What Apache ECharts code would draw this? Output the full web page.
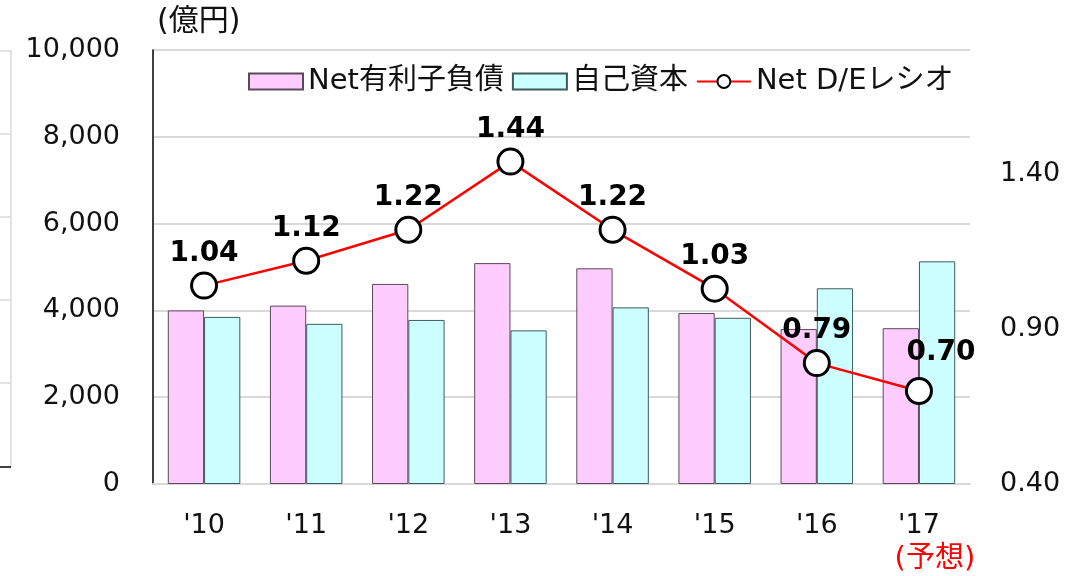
<!DOCTYPE html>
<html>
<head>
<meta charset="utf-8">
<script src="https://cdn.jsdelivr.net/npm/echarts@6/dist/echarts.min.js"></script>
<style>
  html, body { margin: 0; padding: 0; background: #fff; }
  #chart { width: 1086px; height: 576px; }
</style>
</head>
<body>
<div id="chart"></div>
<script>
// 年度
const categories = ["'10", "'11", "'12", "'13", "'14", "'15", "'16", "'17"];
// Net有利子負債 (億円)
const netDebt = [4000, 4110, 4610, 5090, 4970, 3940, 3570, 3590];
// 自己資本 (億円)
const equity = [3850, 3690, 3780, 3540, 4070, 3830, 4510, 5130];
// Net D/Eレシオ
const deRatio = [1.04, 1.12, 1.22, 1.44, 1.22, 1.03, 0.79, 0.70];
// 予想の年度
const forecastIndex = 7;
const forecastNote = '(予想)';
const unitLabel = '(億円)';

const baseFont = '"DejaVu Sans", "Noto Sans CJK JP", sans-serif';

const chart = echarts.init(document.getElementById('chart'));

const option = {
    animation: false,
    textStyle: { fontFamily: baseFont },
    title: {
        text: unitLabel,
        left: 152,
        top: 2,
        textStyle: { fontSize: 30, fontWeight: 'normal', color: '#111', fontFamily: baseFont }
    },
    legend: {
        left: 243,
        top: 62,
        itemWidth: 54,
        itemHeight: 16,
        itemGap: 8,
        textStyle: { fontSize: 29, color: '#111', fontFamily: baseFont },
        data: [
            { name: 'Net有利子負債', icon: 'rect' },
            { name: '自己資本', icon: 'rect' },
            { name: 'Net D/Eレシオ' }
        ]
    },
    grid: { left: 153, right: 116, top: 50, bottom: 90, containLabel: false },
    xAxis: {
        type: 'category',
        data: categories,
        axisLine: { lineStyle: { color: '#d9d9d9', width: 2 } },
        axisTick: { show: false },
        axisLabel: {
            interval: 0,
            fontSize: 27,
            color: '#111',
            margin: 26,
            lineHeight: 32,
            formatter: (v, i) => i === forecastIndex ? v + '\n{r|' + forecastNote + '}' : v,
            rich: { r: { color: '#ff0000', fontSize: 29, lineHeight: 34, fontFamily: baseFont, padding: [0, 0, 0, 32] } }
        }
    },
    yAxis: [
        {
            type: 'value',
            min: 0,
            max: 10000,
            interval: 2000,
            axisLine: { show: true, lineStyle: { color: '#000', width: 1.5 } },
            axisTick: { show: false },
            axisLabel: {
                fontSize: 27,
                color: '#111',
                margin: 33,
                formatter: v => v.toLocaleString('en-US')
            },
            splitLine: { lineStyle: { color: '#d9d9d9', width: 2 } }
        },
        {
            type: 'value',
            min: 0.4,
            max: 1.8,
            interval: 0.5,
            axisLine: { show: false },
            axisTick: { show: false },
            splitLine: { show: false },
            axisLabel: {
                fontSize: 27,
                color: '#111',
                margin: 30,
                showMaxLabel: false,
                formatter: v => v.toFixed(2)
            }
        }
    ],
    series: [
        {
            name: 'Net有利子負債',
            type: 'bar',
            data: netDebt,
            barGap: 0,
            barCategoryGap: '29%',
            itemStyle: { color: '#ffccff', borderColor: '#5a4a5a', borderWidth: 1 }
        },
        {
            name: '自己資本',
            type: 'bar',
            data: equity,
            itemStyle: { color: '#ccffff', borderColor: '#3f5a5a', borderWidth: 1 }
        },
        {
            name: 'Net D/Eレシオ',
            type: 'line',
            yAxisIndex: 1,
            z: 5,
            data: deRatio.map((v, i) => i === forecastIndex ? { value: v, label: { offset: [22, -6] } } : v),
            symbol: 'circle',
            symbolSize: 25,
            lineStyle: { color: '#ff0000', width: 2.5 },
            itemStyle: { color: '#fff', borderColor: '#000', borderWidth: 3 },
            label: {
                show: true,
                position: 'top',
                distance: 4,
                fontSize: 28,
                fontWeight: 'bold',
                color: '#000',
                fontFamily: baseFont,
                formatter: p => p.value.toFixed(2)
            }
        }
    ],
    // 左端に切れて見える隣の枠
    graphic: [
        { type: 'line', shape: { x1: 11, y1: 50, x2: 11, y2: 467 }, style: { stroke: '#d9d9d9', lineWidth: 1.5 } },
        { type: 'line', shape: { x1: 0, y1: 51, x2: 11, y2: 51 }, style: { stroke: '#d9d9d9', lineWidth: 1.5 } },
        { type: 'line', shape: { x1: 0, y1: 134, x2: 11, y2: 134 }, style: { stroke: '#d9d9d9', lineWidth: 1.5 } },
        { type: 'line', shape: { x1: 0, y1: 217, x2: 11, y2: 217 }, style: { stroke: '#d9d9d9', lineWidth: 1.5 } },
        { type: 'line', shape: { x1: 0, y1: 300, x2: 11, y2: 300 }, style: { stroke: '#d9d9d9', lineWidth: 1.5 } },
        { type: 'line', shape: { x1: 0, y1: 383, x2: 11, y2: 383 }, style: { stroke: '#d9d9d9', lineWidth: 1.5 } },
        { type: 'line', shape: { x1: 0, y1: 467, x2: 11, y2: 467 }, style: { stroke: '#000', lineWidth: 1.5 } }
    ]
};

chart.setOption(option);
window.addEventListener('resize', () => chart.resize());
</script>
</body>
</html>
